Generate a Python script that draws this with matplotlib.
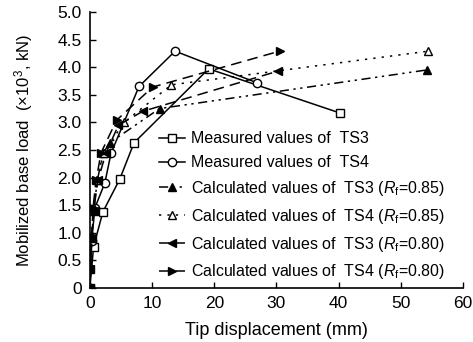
import matplotlib
matplotlib.use('Agg')
import matplotlib.pyplot as plt
import numpy as np

plt.rcParams['font.family'] = ['Liberation Sans', 'DejaVu Sans']
plt.rcParams['mathtext.fontset'] = 'custom'
plt.rcParams['mathtext.rm'] = 'Liberation Sans'
plt.rcParams['mathtext.it'] = 'Liberation Sans:italic'

# measured values (mm, x10^3 kN)
ts3_x = [0, 0.6, 2.1, 4.8, 7.1, 19.1, 40.2]
ts3_y = [0, 0.75, 1.38, 1.97, 2.63, 3.97, 3.17]
ts4_x = [0, 0.3, 0.8, 2.4, 3.4, 7.9, 13.7, 26.8]
ts4_y = [0, 0.85, 1.45, 1.9, 2.44, 3.65, 4.29, 3.72]

# calculated values
c3_85_x = [0, 0.1, 0.3, 0.6, 1.2, 2.1, 3.2, 11.2, 54.2]
c3_85_y = [0, 0.35, 0.9, 1.4, 1.95, 2.44, 2.63, 3.25, 3.95]
c4_85_x = [0, 0.1, 0.3, 0.6, 1.2, 2.2, 5.5, 13.1, 54.4]
c4_85_y = [0, 0.4, 0.95, 1.45, 1.95, 2.45, 3.0, 3.68, 4.29]
c3_80_x = [0, 0.1, 0.3, 0.6, 1.3, 2.6, 4.6, 8.5, 30.3]
c3_80_y = [0, 0.35, 0.9, 1.4, 1.95, 2.45, 2.95, 3.2, 3.93]
c4_80_x = [0, 0.1, 0.3, 0.5, 1.0, 1.8, 4.3, 10.1, 30.5]
c4_80_y = [0, 0.4, 0.95, 1.45, 1.95, 2.45, 3.04, 3.64, 4.29]

fig = plt.figure(figsize=(4.73, 3.42), dpi=100)
ax = fig.add_axes([0.190, 0.158, 0.789, 0.807])

lw = 1.1
ms = 6
ax.plot(ts3_x, ts3_y, 'k-', lw=lw, marker='s', mfc='w', ms=ms, label='Measured values of  TS3')
ax.plot(ts4_x, ts4_y, 'k-', lw=lw, marker='o', mfc='w', ms=ms, label='Measured values of  TS4')
ax.plot(c3_85_x, c3_85_y, 'k', lw=lw, dashes=(6, 3, 1.5, 3, 1.5, 3), marker='^', ms=ms,
        label='Calculated values of  TS3 ($R_{\\mathrm{f}}$=0.85)')
ax.plot(c4_85_x, c4_85_y, 'k', lw=lw, dashes=(1.5, 4), marker='^', mfc='w', ms=ms,
        label='Calculated values of  TS4 ($R_{\\mathrm{f}}$=0.85)')
ax.plot(c3_80_x, c3_80_y, 'k', lw=lw, dashes=(7, 4), marker='<', ms=ms,
        label='Calculated values of  TS3 ($R_{\\mathrm{f}}$=0.80)')
ax.plot(c4_80_x, c4_80_y, 'k', lw=lw, dashes=(7, 4), marker='>', ms=ms,
        label='Calculated values of  TS4 ($R_{\\mathrm{f}}$=0.80)')

ax.set_xlim(0, 60)
ax.set_ylim(0, 5)
ax.set_xticks(np.arange(0, 61, 10))
ax.set_yticks(np.arange(0, 5.01, 0.5))
ax.set_yticklabels(['0'] + ['%.1f' % v for v in np.arange(0.5, 5.01, 0.5)])
ax.spines['top'].set_visible(False)
ax.spines['right'].set_visible(False)
ax.tick_params(direction='in', labelsize=12.5, length=4, width=1, pad=6)
ax.spines['left'].set_linewidth(1.2)
ax.spines['bottom'].set_linewidth(1.2)

ax.set_xlabel('Tip displacement (mm)', fontsize=13, labelpad=8)
ax.set_ylabel('Mobilized base load  (×10$^3$, kN)', fontsize=12, labelpad=16)

ax.legend(loc='lower left', bbox_to_anchor=(0.165, -0.005), frameon=False, fontsize=11.5,
          handlelength=1.6, handletextpad=0.4, labelspacing=0.55, borderpad=0)

fig.savefig('out.png', dpi=100)
